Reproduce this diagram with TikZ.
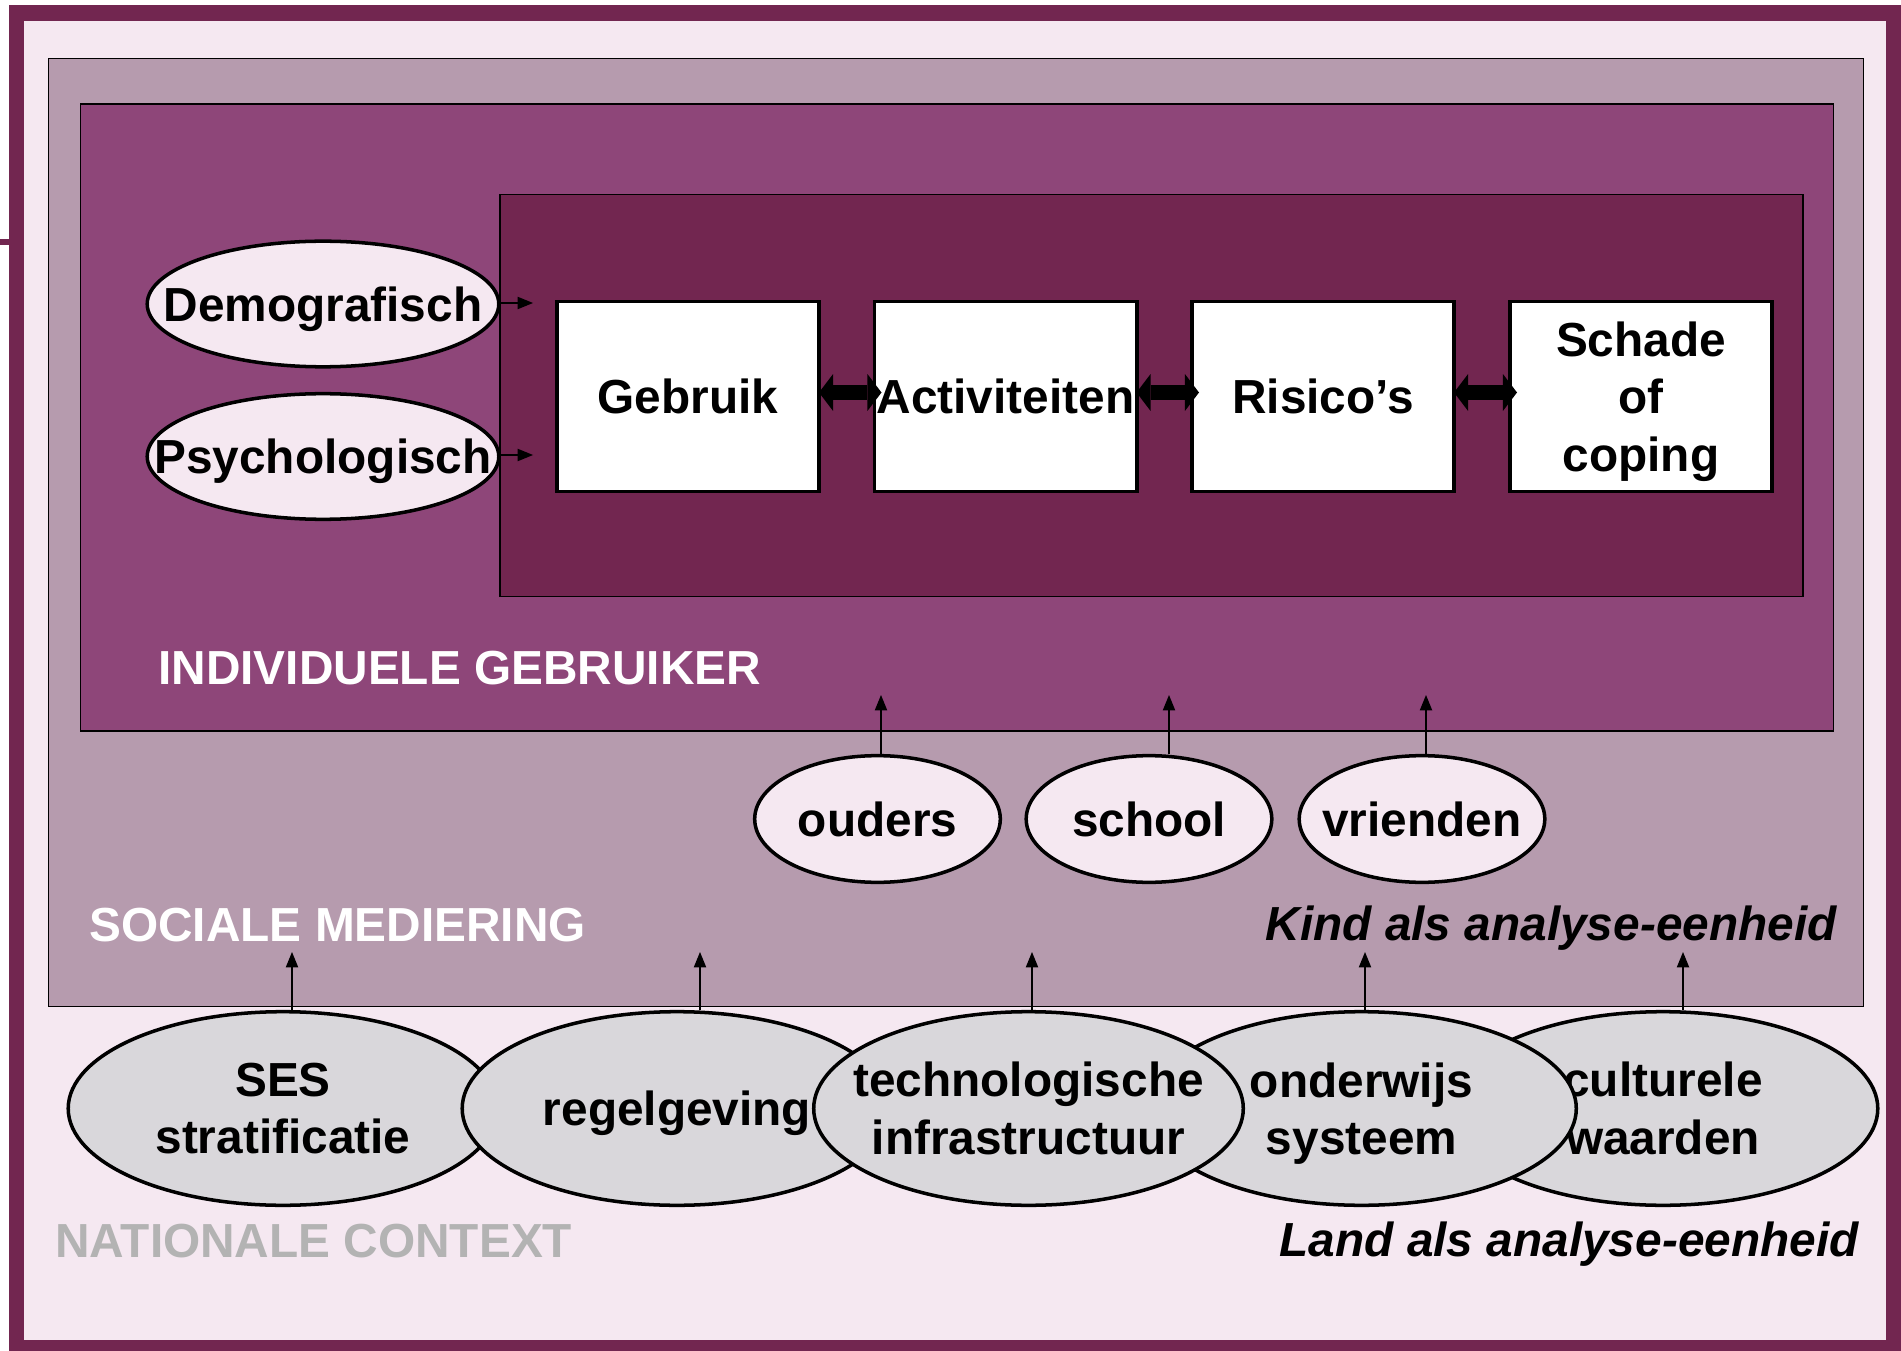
\documentclass[tikz,border=0pt]{standalone}
\usepackage{fontspec}
\setmainfont{Liberation Sans}
\usetikzlibrary{shapes.geometric,arrows.meta,calc}
\definecolor{framec}{HTML}{722650}
\definecolor{pinkbg}{HTML}{F5E8F1}
\definecolor{mauve}{HTML}{B69BAE}
\definecolor{midpurple}{HTML}{8E4679}
\definecolor{darkpurple}{HTML}{722650}
\definecolor{ellgray}{HTML}{D9D7DB}
\definecolor{natgray}{HTML}{B3B3B3}
\newcommand\bigfont{\fontsize{27.2pt}{32.7pt}\selectfont\bfseries}
\newcommand\nodesc[1]{\raisebox{0pt}[\height][0pt]{#1}}
\begin{document}
\begin{tikzpicture}[x=0.02cm,y=-0.02cm,
  area/.style={draw=black,line width=1pt},
  procbox/.style={draw=black,line width=2.2pt,fill=white,minimum width=149.2pt,minimum height=108.2pt,inner sep=0pt,font=\bigfont,align=center},
  ell/.style={ellipse,draw=black,line width=2pt,inner sep=0pt},
  smallell/.style={ell,fill=pinkbg,minimum width=139.8pt,minimum height=72.1pt},
  sideell/.style={ell,fill=pinkbg,minimum width=200.1pt,minimum height=71.5pt},
  natell/.style={ell,fill=ellgray,minimum width=244.5pt,minimum height=110.2pt},
  lbl/.style={font=\bigfont,align=center,inner sep=0pt},
  dbl/.style={line width=8.6pt,{Triangle[width=21pt,length=8pt,line width=0pt]}-{Triangle[width=21pt,length=8pt,line width=0pt]}},
  arr/.style={line width=1.14pt,-{Triangle[width=7.2pt,length=8.8pt,line width=0pt]}},
]
\useasboundingbox (0,0) rectangle (1901,1351);
\fill[white] (0,0) rectangle (1901,1351);
% outer frame
\fill[framec] (9,5) rectangle (1901,1351);
\fill[pinkbg] (24,21) rectangle (1886,1340);
\fill[framec] (0,239) rectangle (9,245);
% nested areas
\filldraw[area,fill=mauve] (48.5,58.5) rectangle (1863.5,1006.5);
\filldraw[area,fill=midpurple] (80.5,104) rectangle (1833.5,731);
\filldraw[area,fill=darkpurple] (500,194.5) rectangle (1803,596.5);

% process boxes
\node[procbox] (geb) at (688,396.5) {Gebruik};
\node[procbox] (act) at (1005.5,396.5) {Activiteiten};
\node[procbox] (ris) at (1323,396.5) {Risico’s};
\node[procbox] (sch) at (1641,396.5) {Schade\\of\\\nodesc{coping}};
\draw[dbl] ($(geb.east)+(-2,-4)$) -- ($(act.west)+(9,-4)$);
\draw[dbl] ($(act.east)+(-2,-4)$) -- ($(ris.west)+(9,-4)$);
\draw[dbl] ($(ris.east)+(-2,-4)$) -- ($(sch.west)+(9,-4)$);

% individual factors
\node[sideell] (dem) at (323,304) {};
\node[lbl] at (dem.center) {\nodesc{Demografisch}};
\node[sideell] (psy) at (323,456.5) {};
\node[lbl] at (psy.center) {\nodesc{Psychologisch}};
\coordinate (demtip) at (533,303);
\coordinate (psytip) at (533,455);
\draw[arr] (dem.east |- demtip) -- (demtip);
\draw[arr] (psy.east |- psytip) -- (psytip);

% labels
\node[lbl,anchor=base west,text=white] (indiv) at (158,684) {INDIVIDUELE GEBRUIKER};
\node[lbl,anchor=base west,text=white] (soc) at (89,941) {SOCIALE MEDIERING};
\node[lbl,anchor=base west,text=natgray] (nat) at (55,1257) {NATIONALE CONTEXT};
\node[lbl,anchor=base east] (kind) at (1837,940) {\itshape Kind als analyse-eenheid};
\node[lbl,anchor=base east] (land) at (1859,1256) {\itshape Land als analyse-eenheid};

% social mediation
\node[smallell] (oud) at (877.5,819) {};
\node[lbl] at (oud.center) {ouders};
\node[smallell] (scl) at (1149,819) {};
\node[lbl] at (scl.center) {school};
\node[smallell] (vri) at (1422,819) {};
\node[lbl] at (vri.center) {vrienden};
\coordinate (toud) at (881,695);
\coordinate (tscl) at (1169,695);
\coordinate (tvri) at (1426,695);
\draw[arr] (toud |- oud.north) -- (toud);
\draw[arr] (tscl |- scl.north) -- (tscl);
\draw[arr] (tvri |- vri.north) -- (tvri);

% national context
\node[natell] (ses) at (283,1108.5) {};
\node[lbl] at (ses.center) {SES\\stratificatie};
\node[natell] (reg) at (677,1108.5) {};
\node[lbl] at (reg.center) {\nodesc{regelgeving}};
\node[natell] (cul) at (1663,1108.5) {};
\node[lbl] at (cul.center) {culturele\\waarden};
\node[natell] (ond) at (1361.5,1108.5) {};
\node[lbl] at (ond.center) {onderwijs\\\nodesc{systeem}};
\node[natell] (tec) at (1028.5,1108.5) {};
\node[lbl] at (tec.center) {technologische\\infrastructuur};
\coordinate (tses) at (292,952);
\coordinate (treg) at (700,952);
\coordinate (ttec) at (1032,952);
\coordinate (tond) at (1365,952);
\coordinate (tcul) at (1683,952);
\draw[arr] (tses |- ses.north) -- (tses);
\draw[arr] (treg |- reg.north) -- (treg);
\draw[arr] (ttec |- tec.north) -- (ttec);
\draw[arr] (tond |- ond.north) -- (tond);
\draw[arr] (tcul |- cul.north) -- (tcul);
\end{tikzpicture}
\end{document}
